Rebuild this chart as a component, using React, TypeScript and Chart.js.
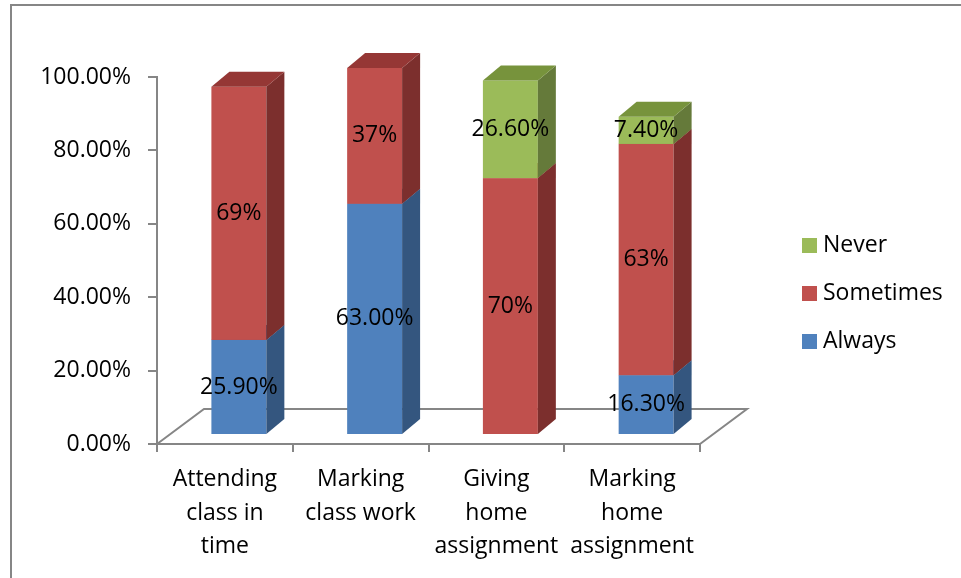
import React, { useEffect, useRef } from "react";
import { Chart, registerables } from "chart.js";

Chart.register(...registerables);

const categories: string[][] = [
  ["Attending", "class in", "time"],
  ["Marking", "class work"],
  ["Giving", "home", "assignment"],
  ["Marking", "home", "assignment"],
];
const seriesNames = ["Always", "Sometimes", "Never"];
const alwaysValues = [25.9, 63.0, 0, 16.3];
const sometimesValues = [69, 37, 70, 63];
const neverValues = [0, 0, 26.6, 7.4];
const alwaysLabels = ["25.90%", "63.00%", "", "16.30%"];
const sometimesLabels = ["69%", "37%", "70%", "63%"];
const neverLabels = ["", "", "26.60%", "7.40%"];
const yTickValues = [0, 20, 40, 60, 80, 100];

const FRONT = ["#4F81BD", "#C0504D", "#9BBB59"];
const SIDE = ["#34567F", "#7C2F2D", "#657A3A"];
const TOP = ["#3E6596", "#953735", "#77933C"];
const AXIS = "#868686";
const FONT = "'Open Sans', 'Noto Sans', sans-serif";

const BAR_DX = 18;
const BAR_DY = -15;
const SHIFT_DX = 14;
const SHIFT_DY = -9;
const FLOOR_DX = 47;
const FLOOR_DY = -35;

const labelSets = [alwaysLabels, sometimesLabels, neverLabels];

const threeDPlugin = {
  id: "threeD",
  beforeDraw(chart: any) {
    const ctx = chart.ctx;
    ctx.save();
    ctx.fillStyle = "#ffffff";
    ctx.fillRect(0, 0, chart.width, chart.height);
    ctx.strokeStyle = AXIS;
    ctx.lineWidth = 2;
    ctx.beginPath();
    ctx.moveTo(11, chart.height + 10);
    ctx.lineTo(11, 5);
    ctx.lineTo(chart.width + 10, 5);
    ctx.stroke();
    ctx.restore();
  },
  beforeDatasetsDraw(chart: any) {
    const ctx = chart.ctx;
    const ca = chart.chartArea;
    ctx.save();
    // floor
    ctx.strokeStyle = AXIS;
    ctx.lineWidth = 2;
    ctx.beginPath();
    ctx.moveTo(ca.left, ca.bottom);
    ctx.lineTo(ca.left + FLOOR_DX, ca.bottom + FLOOR_DY);
    ctx.lineTo(ca.right + FLOOR_DX, ca.bottom + FLOOR_DY);
    ctx.lineTo(ca.right, ca.bottom);
    ctx.stroke();

    const n = chart.data.labels.length;
    const texts: { t: string; x: number; y: number }[] = [];
    for (let i = 0; i < n; i++) {
      chart.data.datasets.forEach((ds: any, d: number) => {
        const meta = chart.getDatasetMeta(d);
        const el: any = meta.data[i];
        const v = ds.data[i];
        if (!el || !v) return;
        const w = el.width;
        const x0 = el.x - w / 2 + SHIFT_DX;
        const x1 = x0 + w;
        const yb = el.base + SHIFT_DY;
        const yt = el.y + SHIFT_DY;
        // front
        ctx.fillStyle = FRONT[d];
        ctx.fillRect(x0, yt, w, yb - yt);
        // side
        ctx.fillStyle = SIDE[d];
        ctx.beginPath();
        ctx.moveTo(x1, yb);
        ctx.lineTo(x1 + BAR_DX, yb + BAR_DY);
        ctx.lineTo(x1 + BAR_DX, yt + BAR_DY);
        ctx.lineTo(x1, yt);
        ctx.closePath();
        ctx.fill();
        // top
        ctx.fillStyle = TOP[d];
        ctx.beginPath();
        ctx.moveTo(x0, yt);
        ctx.lineTo(x1, yt);
        ctx.lineTo(x1 + BAR_DX, yt + BAR_DY);
        ctx.lineTo(x0 + BAR_DX, yt + BAR_DY);
        ctx.closePath();
        ctx.fill();
        const t = labelSets[d][i];
        if (t) texts.push({ t, x: (x0 + x1) / 2, y: (yb + yt) / 2 });
      });
    }
    ctx.fillStyle = "#000000";
    ctx.font = `23px ${FONT}`;
    ctx.textAlign = "center";
    ctx.textBaseline = "middle";
    texts.forEach((o) => ctx.fillText(o.t, o.x, o.y));
    ctx.restore();
    return false;
  },
  afterDraw(chart: any) {
    const ctx = chart.ctx;
    ctx.save();
    ctx.font = `23px ${FONT}`;
    ctx.textAlign = "left";
    ctx.textBaseline = "middle";
    const order = [2, 1, 0];
    order.forEach((d, k) => {
      const cy = 245.5 + k * 48;
      ctx.fillStyle = FRONT[d];
      ctx.fillRect(802, cy - 7.5, 15, 15);
      ctx.fillStyle = "#000000";
      ctx.fillText(chart.data.datasets[d].label, 823, cy);
    });
    ctx.restore();
  },
};

export default function App() {
  const ref = useRef<HTMLCanvasElement | null>(null);
  useEffect(() => {
    if (!ref.current) return;
    const chart = new Chart(ref.current, {
      type: "bar",
      data: {
        labels: categories,
        datasets: [
          { label: seriesNames[0], data: alwaysValues, backgroundColor: FRONT[0] },
          { label: seriesNames[1], data: sometimesValues, backgroundColor: FRONT[1] },
          { label: seriesNames[2], data: neverValues, backgroundColor: FRONT[2] },
        ],
      },
      options: {
        responsive: false,
        animation: false,
        layout: { padding: { left: 0, top: 77, right: 261, bottom: 0 } },
        datasets: { bar: { categoryPercentage: 0.8, barPercentage: 0.506 } },
        plugins: { legend: { display: false }, tooltip: { enabled: false } },
        scales: {
          x: {
            stacked: true,
            offset: true,
            afterFit: (s: any) => {
              s.height = 134;
            },
            grid: {
              offset: true,
              drawOnChartArea: false,
              drawTicks: true,
              tickLength: 8,
              color: AXIS,
              lineWidth: 2,
            },
            border: { display: true, color: AXIS, width: 2 },
            ticks: {
              autoSkip: false,
              maxRotation: 0,
              padding: 11,
              color: "#000000",
              font: { family: FONT, size: 23, lineHeight: 1.46 },
            },
          },
          y: {
            stacked: true,
            min: 0,
            max: 100,
            afterFit: (s: any) => {
              s.width = 157;
            },
            afterBuildTicks: (s: any) => {
              s.ticks = yTickValues.map((v) => ({ value: v }));
            },
            grid: {
              drawOnChartArea: false,
              drawTicks: true,
              tickLength: 9,
              color: AXIS,
              lineWidth: 2,
            },
            border: { display: true, color: AXIS, width: 2 },
            ticks: {
              padding: 17,
              color: "#000000",
              font: { family: FONT, size: 23 },
              callback: (v: any) => Number(v).toFixed(2) + "%",
            },
          },
        },
      },
      plugins: [threeDPlugin],
    });
    return () => chart.destroy();
  }, []);
  return (
    <div style={{ position: "absolute", left: 0, top: 0, width: 961, height: 578 }}>
      <canvas ref={ref} width={961} height={578} style={{ display: "block" }} />
    </div>
  );
}
